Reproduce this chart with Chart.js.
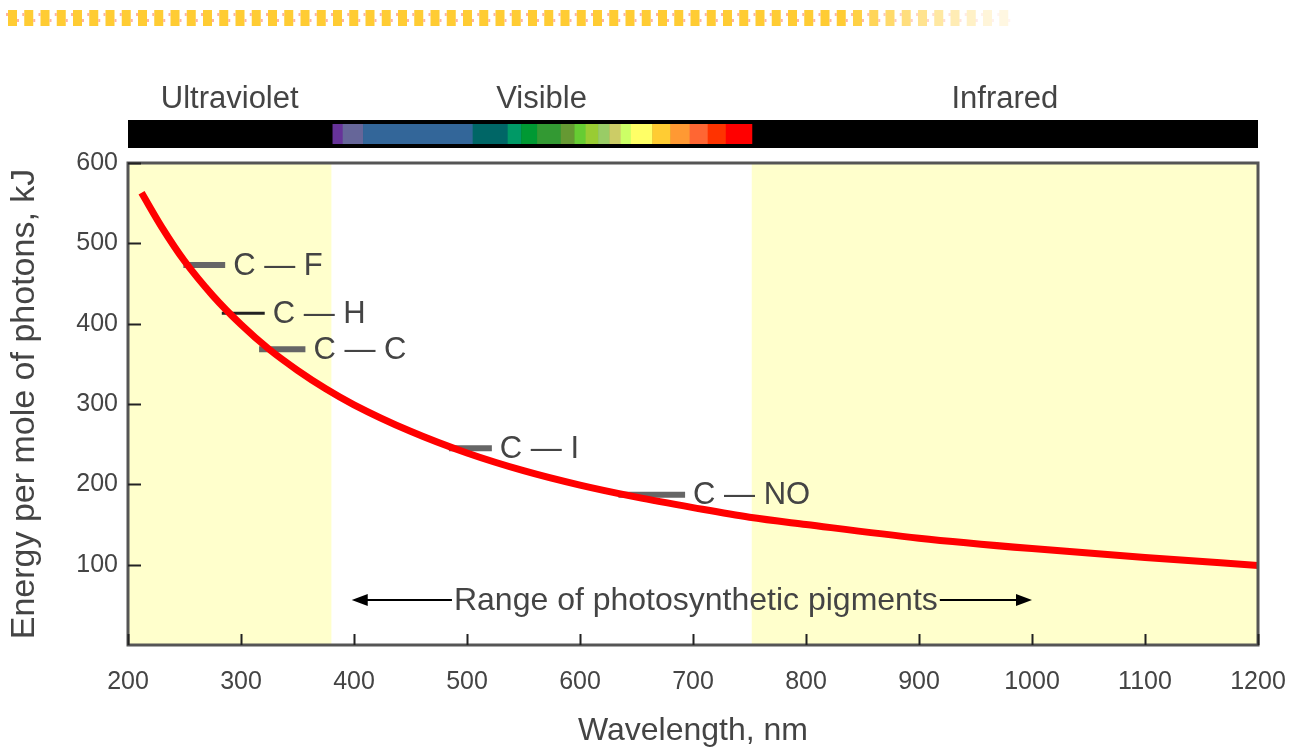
<!DOCTYPE html>
<html>
<head>
<meta charset="utf-8">
<script src="https://cdn.jsdelivr.net/npm/chart.js@4.4.1/dist/chart.umd.min.js"></script>
<style>
  html, body { margin: 0; padding: 0; background: #fff; }
  #wrap { width: 1298px; height: 750px; }
</style>
</head>
<body>
<div id="wrap"><canvas id="grafica" width="1298" height="750"></canvas></div>
<script>
// curva energia vs longitud de onda
const longitudes = [212, 230, 250, 275, 300, 325, 350, 375, 400, 450, 500, 550, 600, 650, 700, 750, 800, 900, 1000, 1100, 1200];
const energias   = [563, 520, 478, 435, 399, 368, 342, 319, 299, 266, 239, 217, 199, 184, 171, 159, 150, 133, 120, 109, 99];

// enlaces quimicos
const enlaces        = ['C — F', 'C — H', 'C — C', 'C — I', 'C — NO'];
const enlaceInicio   = [249, 283, 316, 484, 634];
const enlaceFin      = [286, 321, 357, 522, 693];
const enlaceEnergia  = [473, 413, 368, 245, 187];

// regiones del espectro
const regiones       = ['Ultraviolet', 'Visible', 'Infrared'];
const regionDesde    = [200, 380, 752];
const regionHasta    = [380, 752, 1200];

// bandas de color del espectro visible
const bandaLimites = [381, 390, 408, 505, 536, 548, 562, 583, 595, 605, 616, 626, 636, 645, 664, 680, 697, 713, 729, 752];
const bandaColores = ['#663399', '#666699', '#336699', '#006666', '#009966', '#009933', '#339933', '#669933', '#66cc33',
                      '#99cc33', '#99cc66', '#cccc66', '#ccff66', '#ffff66', '#ffcc33', '#ff9933', '#ff6633', '#ff3300', '#ff0000'];

// rango de pigmentos fotosinteticos
const rangoPigmentos = [398, 1000];
const rangoEnergia = 56;
const rangoTexto = 'Range of photosynthetic pigments';

const ticksX = [200, 300, 400, 500, 600, 700, 800, 900, 1000, 1100, 1200];
const ticksY = [100, 200, 300, 400, 500, 600];

const fuente = '"Liberation Sans", Arial, sans-serif';
const gris = '#444';

const estiloEnlace = [
    { color: '#666', ancho: 6 },
    { color: '#222', ancho: 3 },
    { color: '#666', ancho: 6 },
    { color: '#666', ancho: 6 },
    { color: '#666', ancho: 6 }
];

const datasets = [{
    data: longitudes.map((l, i) => ({ x: l, y: energias[i] })),
    borderColor: '#ff0000',
    borderWidth: 7,
    pointRadius: 0,
    cubicInterpolationMode: 'monotone',
    fill: false,
    order: 0
}];
enlaces.forEach((n, i) => {
    datasets.push({
        data: [{ x: enlaceInicio[i], y: enlaceEnergia[i] }, { x: enlaceFin[i], y: enlaceEnergia[i] }],
        borderColor: estiloEnlace[i].color,
        borderWidth: estiloEnlace[i].ancho,
        borderCapStyle: 'butt',
        pointRadius: 0,
        fill: false,
        order: 1
    });
});

const fondo = {
    id: 'fondo',
    beforeDatasetsDraw(chart) {
        const { ctx, chartArea: a, scales: { x, y } } = chart;
        ctx.save();
        // sombreado UV e IR
        ctx.fillStyle = '#ffffcc';
        [0, 2].forEach(i => {
            const x0 = x.getPixelForValue(regionDesde[i]);
            const x1 = x.getPixelForValue(regionHasta[i]);
            ctx.fillRect(x0, a.top, x1 - x0, a.bottom - a.top);
        });
        ctx.restore();
    },
    afterDatasetsDraw(chart) {
        const { ctx, chartArea: a, scales: { x, y } } = chart;
        ctx.save();

        // barra del espectro
        const barTop = a.top - 43, barH = 28;
        ctx.fillStyle = '#000';
        ctx.fillRect(a.left, barTop, a.right - a.left, barH);
        bandaColores.forEach((c, i) => {
            const x0 = x.getPixelForValue(bandaLimites[i]);
            const x1 = x.getPixelForValue(bandaLimites[i + 1]);
            ctx.fillStyle = c;
            ctx.fillRect(x0, barTop + 4, x1 - x0 + 0.5, barH - 8);
        });

        // nombres de regiones
        ctx.fillStyle = gris;
        ctx.font = '31px ' + fuente;
        ctx.textAlign = 'center';
        ctx.textBaseline = 'middle';
        regiones.forEach((r, i) => {
            const cx = x.getPixelForValue((regionDesde[i] + regionHasta[i]) / 2);
            ctx.fillText(r, cx, a.top - 64);
        });

        // etiquetas de enlaces
        ctx.textAlign = 'left';
        ctx.font = '31px ' + fuente;
        enlaces.forEach((n, i) => {
            ctx.fillText(n, x.getPixelForValue(enlaceFin[i]) + 8, y.getPixelForValue(enlaceEnergia[i]) + 1);
        });

        // flecha del rango
        const yy = y.getPixelForValue(rangoEnergia);
        const xa = x.getPixelForValue(rangoPigmentos[0]);
        const xb = x.getPixelForValue(rangoPigmentos[1]);
        const cx = (xa + xb) / 2 + 4;
        ctx.font = '32px ' + fuente;
        ctx.textAlign = 'center';
        const w = ctx.measureText(rangoTexto).width;
        ctx.fillText(rangoTexto, cx, yy + 1);
        ctx.strokeStyle = '#000';
        ctx.lineWidth = 2;
        ctx.beginPath();
        ctx.moveTo(xa + 10, yy); ctx.lineTo(cx - w / 2 - 2, yy);
        ctx.moveTo(cx + w / 2 + 2, yy); ctx.lineTo(xb - 10, yy);
        ctx.stroke();
        ctx.fillStyle = '#000';
        ctx.beginPath();
        ctx.moveTo(xa, yy); ctx.lineTo(xa + 16, yy - 6); ctx.lineTo(xa + 16, yy + 6); ctx.closePath();
        ctx.moveTo(xb, yy); ctx.lineTo(xb - 16, yy - 6); ctx.lineTo(xb - 16, yy + 6); ctx.closePath();
        ctx.fill();

        // marco y marcas
        ctx.strokeStyle = '#555';
        ctx.lineWidth = 3;
        ctx.strokeRect(a.left, a.top, a.right - a.left, a.bottom - a.top);
        ctx.strokeStyle = '#222';
        ctx.lineWidth = 2;
        ctx.beginPath();
        ticksX.forEach(t => {
            const px = Math.round(x.getPixelForValue(t)) + 0.5;
            ctx.moveTo(px, a.bottom); ctx.lineTo(px, a.bottom - 11);
        });
        ticksY.forEach(t => {
            const py = Math.round(y.getPixelForValue(t)) + 0.5;
            ctx.moveTo(a.left, py); ctx.lineTo(a.left + 13, py);
        });
        ctx.stroke();

        // franja decorativa superior
        for (let i = 0; i < 62; i++) {
            const px = 8 + i * 16.25;
            const alpha = i < 52 ? 1 : Math.max(0.15, 1 - (i - 51) * 0.09);
            ctx.globalAlpha = alpha;
            ctx.fillStyle = '#ffcc33';
            ctx.fillRect(px, 10, 9, 16);
            ctx.fillStyle = '#ffb3a0';
            ctx.fillRect(px - 2, 13, 2, 3);
            ctx.fillRect(px + 9, 19, 2, 3);
        }
        ctx.globalAlpha = 1;
        ctx.restore();
    }
};

new Chart(document.getElementById('grafica').getContext('2d'), {
    type: 'line',
    data: { datasets: datasets },
    options: {
        responsive: false,
        animation: false,
        layout: { padding: { top: 163, right: 40, left: 0, bottom: 0 } },
        plugins: { legend: { display: false }, tooltip: { enabled: false } },
        scales: {
            x: {
                type: 'linear',
                min: 200, max: 1200,
                afterFit: s => { s.height = 105; s.paddingLeft = 0; s.paddingRight = 0; },
                grid: { display: false, drawTicks: false },
                border: { display: false },
                ticks: { stepSize: 100, padding: 22, color: gris, font: { size: 25, family: fuente },
                         callback: v => String(v) },
                title: { display: true, text: 'Wavelength, nm', color: gris, font: { size: 32, family: fuente }, padding: { top: 12, bottom: 0 } }
            },
            y: {
                min: 0, max: 600,
                afterFit: s => { s.width = 128; },
                grid: { display: false, drawTicks: false },
                border: { display: false },
                ticks: { stepSize: 100, padding: 10, color: gris, font: { size: 25, family: fuente },
                         callback: v => v === 0 ? '' : String(v) },
                title: { display: true, text: 'Energy per mole of photons, kJ', color: gris, font: { size: 34, family: fuente }, padding: { bottom: 2 } }
            }
        }
    },
    plugins: [fondo]
});
</script>
</body>
</html>
